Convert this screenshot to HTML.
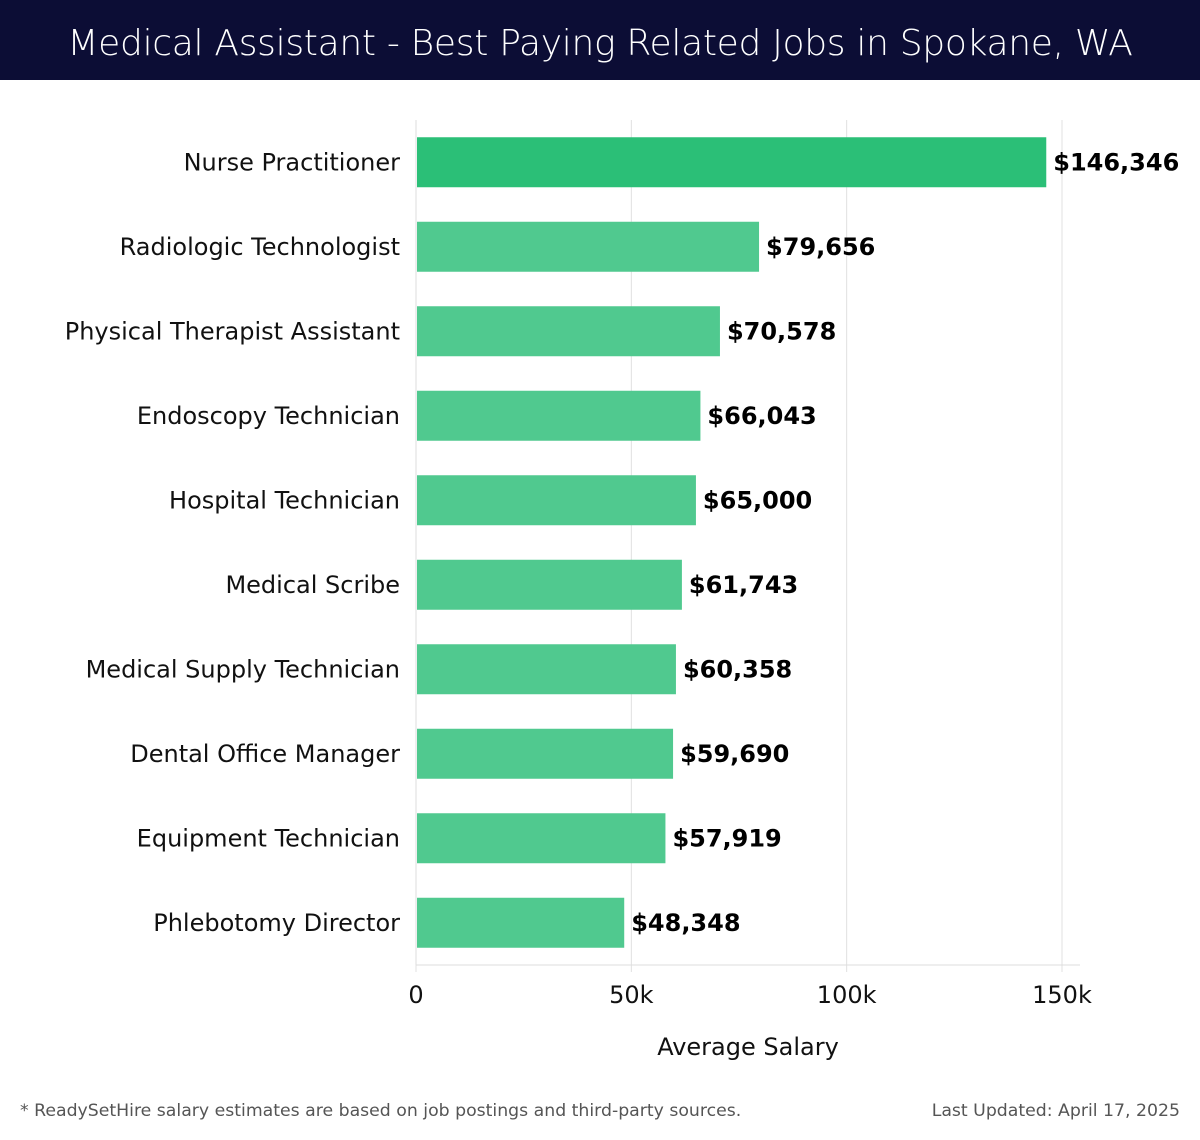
<!DOCTYPE html>
<html><head><meta charset="utf-8"><style>
body{margin:0;width:1200px;height:1140px;background:#fff;font-family:"Liberation Sans","DejaVu Sans",sans-serif;overflow:hidden}
#title{position:absolute;left:0;top:0;width:1200px;height:80px;background:#0c0d35;color:#fff;font-size:36px;text-align:center;line-height:88px;font-family:"DejaVu Sans","Liberation Sans",sans-serif;font-weight:300;letter-spacing:-0.3px}
.foot{position:absolute;top:1101px;font-size:17.3px;color:#555;font-family:"DejaVu Sans","Liberation Sans",sans-serif}
</style></head><body>
<div id="title">Medical Assistant - Best Paying Related Jobs in Spokane, WA</div>
<svg id="chart" width="1200" height="1140" style="position:absolute;left:0;top:0"></svg>
<div class="foot" style="left:20px">* ReadySetHire salary estimates are based on job postings and third-party sources.</div>
<div class="foot" style="right:20px">Last Updated: April 17, 2025</div>
<script>
const categories=["Nurse Practitioner","Radiologic Technologist","Physical Therapist Assistant","Endoscopy Technician","Hospital Technician","Medical Scribe","Medical Supply Technician","Dental Office Manager","Equipment Technician","Phlebotomy Director"];
const values=[146346,79656,70578,66043,65000,61743,60358,59690,57919,48348];
const valueLabels=["$146,346","$79,656","$70,578","$66,043","$65,000","$61,743","$60,358","$59,690","$57,919","$48,348"];
const ticks=[0,50000,100000,150000];
const tickLabels=["0","50k","100k","150k"];
const svg=document.getElementById('chart');
const NS='http://www.w3.org/2000/svg';
const x0=416,xScale=(1062-416)/150000,plotTop=120,plotBottom=965,band=(plotBottom-plotTop)/categories.length,barH=50;
const xPos=v=>x0+v*xScale;
const yPos=i=>plotTop+band*i+band/2;
function mk(tag,attrs,text){const e=document.createElementNS(NS,tag);for(const k in attrs)e.setAttribute(k,attrs[k]);if(text!=null)e.textContent=text;svg.appendChild(e);return e;}
ticks.forEach((t,i)=>{
 const g=mk('line',{x1:xPos(t),x2:xPos(t),y1:plotTop,y2:plotBottom+7,stroke:'#e0e0e0','stroke-width':1});
 
 
 const l=mk('text',{x:xPos(t),y:1003,'text-anchor':'middle','font-size':24,fill:'#111','font-family':'DejaVu Sans, Liberation Sans, sans-serif'},tickLabels[i]);
 
 
});
const ax=mk('line',{x1:x0,x2:1080,y1:plotBottom,y2:plotBottom,stroke:'#ddd','stroke-width':1});


const ay=mk('line',{x1:x0,x2:x0,y1:plotTop,y2:plotBottom,stroke:'#ddd','stroke-width':1});


categories.forEach((c,i)=>{
 const r=mk('rect',{x:x0+1,y:yPos(i)-barH/2,width:xPos(values[i])-x0-1,height:barH,fill:i===0?'#2bbf77':'#50c98f'});
 
 
 const l=mk('text',{x:400,y:yPos(i)+8,'text-anchor':'end','font-size':24,fill:'#111','font-family':'DejaVu Sans, Liberation Sans, sans-serif'},c);
 
 
 const v=mk('text',{x:xPos(values[i])+7,y:yPos(i)+8,'font-size':24,'font-weight':'bold',fill:'#000','font-family':'DejaVu Sans, Liberation Sans, sans-serif'},valueLabels[i]);
 
 
});
const t=mk('text',{x:748,y:1055,'text-anchor':'middle','font-size':24,fill:'#111','font-family':'DejaVu Sans, Liberation Sans, sans-serif'},'Average Salary');


</script>
</body></html>
